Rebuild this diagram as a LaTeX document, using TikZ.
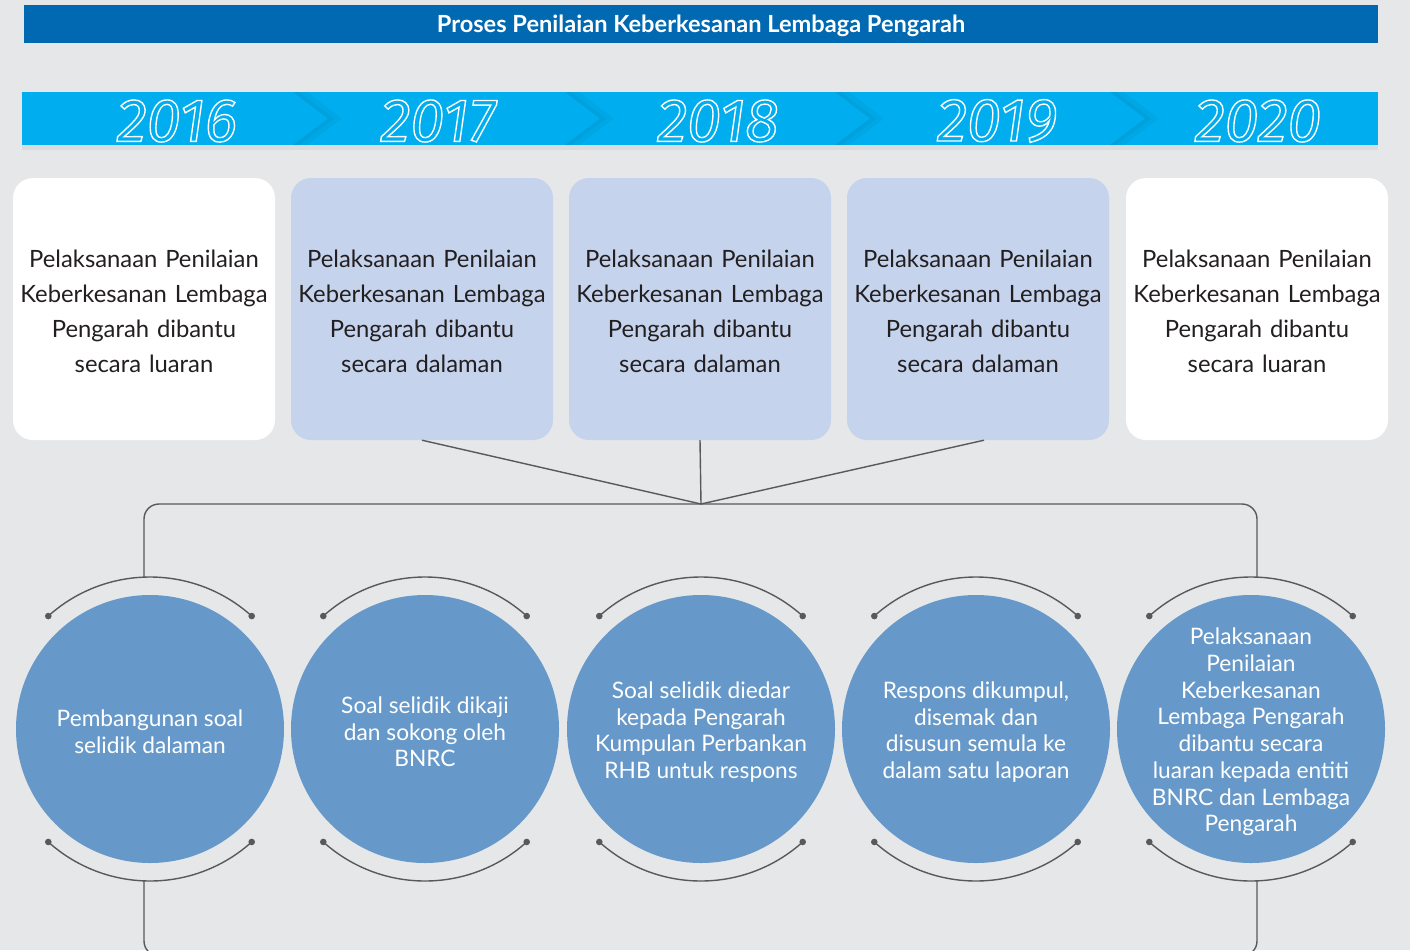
\documentclass[tikz,border=0pt]{standalone}
\usepackage{fontspec}
\setmainfont{Lato}
\newfontfamily\yearfont{Fira Sans}
\usetikzlibrary{positioning}
\definecolor{paper}{HTML}{E6E7E9}
\definecolor{titleblue}{HTML}{0069B1}
\definecolor{band}{HTML}{00AEEF}
\definecolor{lavender}{HTML}{C5D3EC}
\definecolor{steel}{HTML}{6699C9}
\definecolor{ink}{HTML}{231F20}
\definecolor{wire}{HTML}{58595B}
\newcommand{\outlined}[1]{\special{pdf:literal direct 1 Tr 1.4 w}#1\special{pdf:literal direct 0 Tr}}
\tikzset{
  title bar/.style={
    fill=titleblue,
    text=white,
    minimum width=1354pt,
    minimum height=38pt,
    inner sep=0pt,
    text height=18pt,
    text depth=0pt,
    font=\bfseries\fontsize{23.6}{26}\selectfont,
  },
  year label/.style={
    text=white,
    inner sep=0pt,
    font=\yearfont\itshape\fontsize{61}{61}\selectfont,
  },
  stage box/.style={
    rounded corners=20pt,
    minimum width=262pt,
    minimum height=262pt,
    text width=262pt,
    align=center,
    inner sep=0pt,
    text=ink,
    font=\fontsize{23.8}{34.8}\selectfont,
  },
  stage circle/.style={
    circle,
    fill=steel,
    minimum size=268pt,
    inner sep=0pt,
  },
  stage text/.style={
    text=white,
    align=center,
    inner sep=0pt,
    yshift=-3pt,
    font=\fontsize{22.7}{26.7}\selectfont,
  },
  wire line/.style={
    wire,
    line width=1.4pt,
  },
}

\begin{document}
\begin{tikzpicture}[x=1pt, y=1pt]

  \useasboundingbox[fill=paper] (0,0) rectangle (1410,-950);
  \clip (0,0) rectangle (1410,-950);

  % --- Title ---
  \node[title bar] (title) at (701,-24) {Proses Penilaian Keberkesanan Lembaga Pengarah};

  % --- Year band ---
  \fill[black, opacity=0.05] (22,-145) rectangle (1378,-150);
  \fill[band] (22,-92) rectangle (1378,-145);
  \foreach \bx in {293,565,835,1110} {
    \fill[black, opacity=0.04] (\bx,-92) -- ++(35,-26.5) -- ++(-35,-26.5) -- ++(14,0) -- ++(35,26.5) -- ++(-35,26.5) -- cycle;
    \fill[black, opacity=0.04] (\bx,-92) -- ++(35,-26.5) -- ++(-35,-26.5) -- ++(6,0) -- ++(35,26.5) -- ++(-35,26.5) -- cycle;
  }
  \foreach \yr/\x in {2016/177,2017/438,2018/718,2019/997,2020/1258} {
    \node[year label] (y\yr) at (\x,-121) {\outlined{\yr}};
  }

  % --- Stage boxes ---
  \foreach \i/\x/\col/\how in {1/144/white/luaran,2/422/lavender/dalaman,3/700/lavender/dalaman,4/978/lavender/dalaman,5/1257/white/luaran} {
    \node[stage box, fill=\col] (b\i) at (\x,-309) {\rule{0pt}{22pt}Pelaksanaan Penilaian\\Keberkesanan Lembaga\\Pengarah dibantu\\secara \how};
  }

  % --- Stage circles ---
  \node[stage circle, label={[stage text]center:{Pembangunan soal\\selidik dalaman}}] (c1) at (150,-729) {};
  \node[stage circle, label={[stage text]center:{Soal selidik dikaji\\dan sokong oleh\\BNRC}}] (c2) at (425,-729) {};
  \node[stage circle, label={[stage text]center:{Soal selidik diedar\\kepada Pengarah\\Kumpulan Perbankan\\RHB untuk respons}}] (c3) at (701,-729) {};
  \node[stage circle, label={[stage text]center:{Respons dikumpul,\\disemak dan\\disusun semula ke\\dalam satu laporan}}] (c4) at (976,-729) {};
  \node[stage circle, label={[stage text]center:{Pelaksanaan\\Penilaian\\Keberkesanan\\Lembaga Pengarah\\dibantu secara\\luaran kepada entiti\\BNRC dan Lembaga\\Pengarah}}] (c5) at (1251,-729) {};

  % --- Arcs round the circles ---
  \foreach \i in {1,...,5} {
    \draw[wire line] ([shift={(48:152)}]c\i.center) arc[start angle=48, end angle=132, radius=152];
    \draw[wire line] ([shift={(-132:152)}]c\i.center) arc[start angle=-132, end angle=-48, radius=152];
    \foreach \a in {48,132,-48,-132} {
      \fill[wire] ([shift={(\a:152)}]c\i.center) circle (3.3);
    }
  }

  % --- Connectors ---
  \coordinate (hub) at (701,-504);
  \coordinate (t1) at (144,-577);
  \coordinate (t5) at (1257,-577);
  \coordinate (u1) at (144,-881);
  \coordinate (u5) at (1257,-881);
  \coordinate (foot) at (701,-956);
  \draw[wire line] (b2.south) -- (hub);
  \draw[wire line] (b3.south) -- (hub);
  \draw[wire line] ([xshift=6pt]b4.south) -- (hub);
  \draw[wire line, rounded corners=15pt] (t1) |- (hub) -| (t5);
  \draw[wire line, rounded corners=15pt] (u1) |- (foot) -| (u5);

\end{tikzpicture}
\end{document}
